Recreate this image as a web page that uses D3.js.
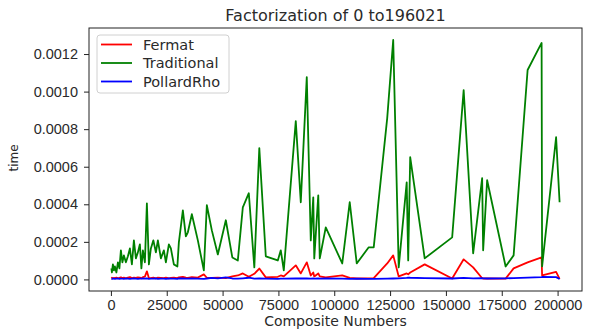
<!DOCTYPE html>
<html>
<head>
<meta charset="utf-8">
<script src="https://cdn.jsdelivr.net/npm/d3@7"></script>
<style>
  body { margin: 0; background: #fff; }
  svg { font-family: 'DejaVu Sans', sans-serif; }
  .axis text { font-size: 14.5px; fill: #2a2a2a; }
  .axis line, .axis path { stroke: #222; }
  .axis-title { font-size: 14px; fill: #2a2a2a; }
  .chart-title { font-size: 16px; fill: #2a2a2a; }
  .legend text { font-size: 14.5px; fill: #2a2a2a; }
  .series { fill: none; stroke-width: 1.8; stroke-linejoin: round; }
</style>
</head>
<body>
<div id="chart"></div>
<script>
// composite numbers that were factorized (x values)
const composites = [224, 447, 895, 1342, 1790, 2461, 3132, 3803, 4474, 5145,
  5817, 6711, 7606, 8501, 9396, 10291, 11186, 12081, 12975, 13647,
  14318, 15213, 16107, 17002, 17897, 19016, 20134, 21029, 22372, 23714,
  24609, 25951, 26846, 28188, 29754, 30425, 32215, 33557, 34452, 36242,
  38926, 41611, 42953, 45190, 47875, 51454, 54363, 56824, 59061, 61746,
  64207, 66443, 69352, 74721, 76063, 77405, 82774, 85012, 87696, 89486,
  90605, 91052, 92842, 93513, 96197, 103580, 106936, 110068, 115437, 117674,
  123714, 126399, 128860, 132440, 133111, 134006, 140494, 152798, 157943, 162194,
  166221, 166668, 168458, 176735, 180315, 186579, 192843, 193066, 199330, 200896];

// time in seconds for each method
const fermatTimes = [0.000006, 0.000009, 0.000005, 0.000008, 0.000007, 0.000010, 0.000006, 0.000008, 0.000011, 0.000007,
  0.000009, 0.000006, 0.000010, 0.000012, 0.000007, 0.000009, 0.000008, 0.000011, 0.000010, 0.000006,
  0.000012, 0.000015, 0.000043, 0.000008, 0.000007, 0.000010, 0.000006, 0.000009, 0.000008, 0.000007,
  0.000010, 0.000006, 0.000008, 0.000009, 0.000007, 0.000011, 0.000013, 0.000009, 0.000008, 0.000012,
  0.000010, 0.000027, 0.000009, 0.000008, 0.000010, 0.000007, 0.000016, 0.000021, 0.000032, 0.000014,
  0.000030, 0.000058, 0.000011, 0.000014, 0.000021, 0.000016, 0.000075, 0.000032, 0.000091, 0.000021,
  0.000037, 0.000016, 0.000032, 0.000016, 0.000011, 0.000021, 0.000008, 0.000005, 0.000006, 0.000007,
  0.000085, 0.000128, 0.000016, 0.000032, 0.000027, 0.000037, 0.000080, 0.000005, 0.000107, 0.000064,
  0.000006, 0.000005, 0.000006, 0.000004, 0.000059, 0.000091, 0.000117, 0.000021, 0.000040, 0.000003];

const traditionalTimes = [0.000059, 0.000037, 0.000080, 0.000048, 0.000069, 0.000037, 0.000091, 0.000059, 0.000155, 0.000091,
  0.000128, 0.000091, 0.000123, 0.000165, 0.000080, 0.000208, 0.000112, 0.000144, 0.000187, 0.000059,
  0.000155, 0.000091, 0.000405, 0.000080, 0.000165, 0.000208, 0.000144, 0.000208, 0.000112, 0.000155,
  0.000091, 0.000187, 0.000165, 0.000080, 0.000069, 0.000197, 0.000368, 0.000229, 0.000251, 0.000347,
  0.000208, 0.000048, 0.000395, 0.000261, 0.000133, 0.000315, 0.000117, 0.000101, 0.000384, 0.000459,
  0.000064, 0.000699, 0.000123, 0.000101, 0.000155, 0.000048, 0.000843, 0.000411, 0.001077, 0.000208,
  0.000437, 0.000112, 0.000448, 0.000112, 0.000277, 0.000085, 0.000411, 0.000085, 0.000171, 0.000171,
  0.000859, 0.001275, 0.000064, 0.000517, 0.000101, 0.000651, 0.000112, 0.000224, 0.001008, 0.000139,
  0.000539, 0.000155, 0.000528, 0.000069, 0.000128, 0.001115, 0.001259, 0.000069, 0.000757, 0.000411];

const pollardRhoTimes = [0.000004, 0.000003, 0.000005, 0.000004, 0.000003, 0.000004, 0.000005, 0.000003, 0.000004, 0.000004,
  0.000003, 0.000005, 0.000004, 0.000003, 0.000004, 0.000005, 0.000004, 0.000003, 0.000004, 0.000004,
  0.000005, 0.000004, 0.000006, 0.000003, 0.000004, 0.000004, 0.000005, 0.000003, 0.000004, 0.000004,
  0.000003, 0.000005, 0.000004, 0.000004, 0.000003, 0.000005, 0.000006, 0.000004, 0.000004, 0.000005,
  0.000004, 0.000003, 0.000005, 0.000008, 0.000006, 0.000011, 0.000005, 0.000004, 0.000006, 0.000009,
  0.000004, 0.000005, 0.000004, 0.000003, 0.000004, 0.000004, 0.000005, 0.000006, 0.000005, 0.000004,
  0.000005, 0.000004, 0.000006, 0.000004, 0.000005, 0.000004, 0.000003, 0.000004, 0.000003, 0.000003,
  0.000004, 0.000005, 0.000006, 0.000008, 0.000010, 0.000009, 0.000007, 0.000005, 0.000008, 0.000006,
  0.000007, 0.000006, 0.000005, 0.000006, 0.000007, 0.000010, 0.000012, 0.000013, 0.000012, 0.000002];

const seriesNames = ['Fermat', 'Traditional', 'PollardRho'];
const seriesColors = ['#ff0000', '#008000', '#0000ff'];
const xTicks = [0, 25000, 50000, 75000, 100000, 125000, 150000, 175000, 200000];
const yTicks = [0, 0.0002, 0.0004, 0.0006, 0.0008, 0.0010, 0.0012];

class LinePlot {
  constructor(_config) {
    this.config = {
      parentElement: _config.parentElement,
      containerWidth: _config.containerWidth || 595,
      containerHeight: _config.containerHeight || 332,
      margin: _config.margin || {top: 28, right: 13, bottom: 41, left: 89}
    };
    this.series = seriesNames.map((name, i) => ({
      name: name,
      color: seriesColors[i],
      values: [fermatTimes, traditionalTimes, pollardRhoTimes][i]
    }));
    this.initVis();
    this.renderVis();
  }

  initVis() {
    let vis = this;
    vis.width = vis.config.containerWidth - vis.config.margin.left - vis.config.margin.right;
    vis.height = vis.config.containerHeight - vis.config.margin.top - vis.config.margin.bottom;

    vis.svg = d3.select(vis.config.parentElement).append('svg')
      .attr('width', vis.config.containerWidth)
      .attr('height', vis.config.containerHeight);

    vis.chart = vis.svg.append('g')
      .attr('transform', `translate(${vis.config.margin.left},${vis.config.margin.top})`);

    // matplotlib style 5% padding around data
    const xExt = d3.extent(composites);
    const xPad = (xExt[1] - xExt[0]) * 0.05;
    const allY = fermatTimes.concat(traditionalTimes, pollardRhoTimes);
    const yExt = d3.extent(allY);
    const yPad = (yExt[1] - yExt[0]) * 0.05;

    vis.xScale = d3.scaleLinear()
      .domain([xExt[0] - xPad, xExt[1] + xPad])
      .range([0, vis.width]);
    vis.yScale = d3.scaleLinear()
      .domain([yExt[0] - yPad, yExt[1] + yPad])
      .range([vis.height, 0]);

    vis.xAxis = d3.axisBottom(vis.xScale)
      .tickValues(xTicks)
      .tickFormat(d3.format('d'))
      .tickSize(5)
      .tickPadding(4);
    vis.yAxis = d3.axisLeft(vis.yScale)
      .tickValues(yTicks)
      .tickFormat(d3.format('.4f'))
      .tickSize(5)
      .tickPadding(6);
  }

  renderVis() {
    let vis = this;

    const line = d3.line()
      .x((d, i) => vis.xScale(composites[i]))
      .y(d => vis.yScale(d));

    vis.chart.selectAll('.series')
      .data(vis.series)
      .join('path')
      .attr('class', 'series')
      .attr('stroke', d => d.color)
      .attr('d', d => line(d.values));

    vis.chart.append('g')
      .attr('class', 'axis x-axis')
      .attr('transform', `translate(0,${vis.height})`)
      .call(vis.xAxis)
      .call(g => g.select('.domain').remove());

    vis.chart.append('g')
      .attr('class', 'axis y-axis')
      .call(vis.yAxis)
      .call(g => g.select('.domain').remove());

    // frame around the axes
    vis.chart.append('rect')
      .attr('width', vis.width)
      .attr('height', vis.height)
      .attr('fill', 'none')
      .attr('stroke', '#222')
      .attr('stroke-width', 1);

    vis.svg.append('text')
      .attr('class', 'chart-title')
      .attr('x', vis.config.margin.left + vis.width / 2)
      .attr('y', 21)
      .attr('text-anchor', 'middle')
      .text('Factorization of 0 to196021');

    vis.svg.append('text')
      .attr('class', 'axis-title')
      .attr('x', vis.config.margin.left + vis.width / 2)
      .attr('y', 326)
      .attr('text-anchor', 'middle')
      .text('Composite Numbers');

    vis.svg.append('text')
      .attr('class', 'axis-title')
      .attr('transform', 'translate(18,158) rotate(-90)')
      .attr('text-anchor', 'middle')
      .style('font-size', '12px')
      .text('time');

    // legend
    const legend = vis.svg.append('g')
      .attr('class', 'legend')
      .attr('transform', 'translate(97,35)');
    legend.append('rect')
      .attr('width', 132)
      .attr('height', 58)
      .attr('rx', 3)
      .attr('fill', 'rgba(255,255,255,0.8)')
      .attr('stroke', '#d0d0d0');
    const rows = legend.selectAll('.legend-row')
      .data(vis.series)
      .join('g')
      .attr('class', 'legend-row')
      .attr('transform', (d, i) => `translate(0,${9.5 + i * 18.5})`);
    rows.append('line')
      .attr('x1', 4).attr('x2', 35)
      .attr('stroke', d => d.color)
      .attr('stroke-width', 1.8);
    rows.append('text')
      .attr('x', 46)
      .attr('dy', '0.35em')
      .text(d => d.name);
  }
}

new LinePlot({parentElement: '#chart'});
</script>
</body>
</html>
